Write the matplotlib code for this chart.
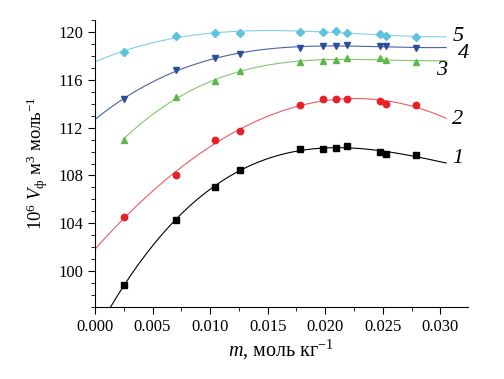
import numpy as np
import matplotlib
matplotlib.use('Agg')
import matplotlib.pyplot as plt
from matplotlib.ticker import MultipleLocator

plt.rcParams['font.family'] = ['Liberation Serif', 'DejaVu Serif']
plt.rcParams['mathtext.fontset'] = 'custom'
plt.rcParams['mathtext.rm'] = 'Liberation Serif'
plt.rcParams['mathtext.it'] = 'Liberation Serif:italic'

# molality, mol/kg
m = [0.0025, 0.0070, 0.0104, 0.0126, 0.0178, 0.0198, 0.0209, 0.0219, 0.0248, 0.0253, 0.0279]

v1 = [98.8, 104.3, 107.0, 108.5, 110.2, 110.2, 110.3, 110.5, 110.0, 109.8, 109.7]
v2 = [104.5, 108.0, 111.0, 111.7, 113.9, 114.4, 114.4, 114.4, 114.2, 114.0, 113.9]
v3 = [111.0, 114.6, 115.9, 116.7, 117.5, 117.6, 117.7, 117.8, 117.8, 117.7, 117.5]
v4 = [114.4, 116.8, 117.8, 118.2, 118.7, 118.8, 118.85, 118.9, 118.8, 118.8, 118.65]
v5 = [118.35, 119.7, 119.9, 119.95, 120.0, 120.0, 120.05, 119.95, 119.8, 119.7, 119.6]

# label, values, marker, marker size, marker colour, line colour, fit start, label pos
series = [
    ('1', v1, 's', 4.2, '#000000', '#000000', 0.0, (0.0310, 109.45)),
    ('2', v2, 'o', 4.6, '#e8202a', '#ee5a60', 0.0, (0.0310, 112.7)),
    ('3', v3, '^', 5.0, '#5cb84a', '#7fc86a', 0.0025, (0.0296, 116.8)),
    ('4', v4, 'v', 5.0, '#2c4c9c', '#4a62a8', 0.0, (0.0315, 118.2)),
    ('5', v5, 'D', 4.0, '#5ec3dc', '#7fd0e4', 0.0, (0.0311, 119.6)),
]

fig = plt.figure(figsize=(5.04, 3.79), dpi=100)
ax = fig.add_axes([0.1885, 0.19, 0.74, 0.757])

for label, vals, mk, ms, col, lcol, x0, lpos in series:
    coef = np.polyfit(m, vals, 3)
    xf = np.linspace(x0, 0.0305, 200)
    ax.plot(xf, np.polyval(coef, xf), color=lcol, lw=0.8)
    ax.plot(m, vals, ls='none', marker=mk, color=col, markersize=ms)
    ax.text(lpos[0], lpos[1], label, fontsize=16, style='italic',
            ha='left', va='center')

ax.set_xlim(0, 0.0324)
ax.set_ylim(97, 121)
ax.xaxis.set_major_locator(MultipleLocator(0.005))
ax.xaxis.set_minor_locator(MultipleLocator(0.0025))
ax.yaxis.set_major_locator(MultipleLocator(4))
ax.yaxis.set_minor_locator(MultipleLocator(1))
ax.xaxis.set_major_formatter(matplotlib.ticker.FormatStrFormatter('%.3f'))
ax.spines['top'].set_visible(False)
ax.spines['right'].set_visible(False)
ax.tick_params(which='major', length=5, labelsize=12)
ax.tick_params(which='minor', length=3)

ax.set_xlabel(r'$m$, моль кг$^{-1}$', fontsize=14.5, labelpad=2)
ax.set_ylabel(r'$10^6\ V_\mathrm{ф}$ м$^3$ моль$^{-1}$', fontsize=13.5, labelpad=6)

fig.savefig('out.png', dpi=100)
